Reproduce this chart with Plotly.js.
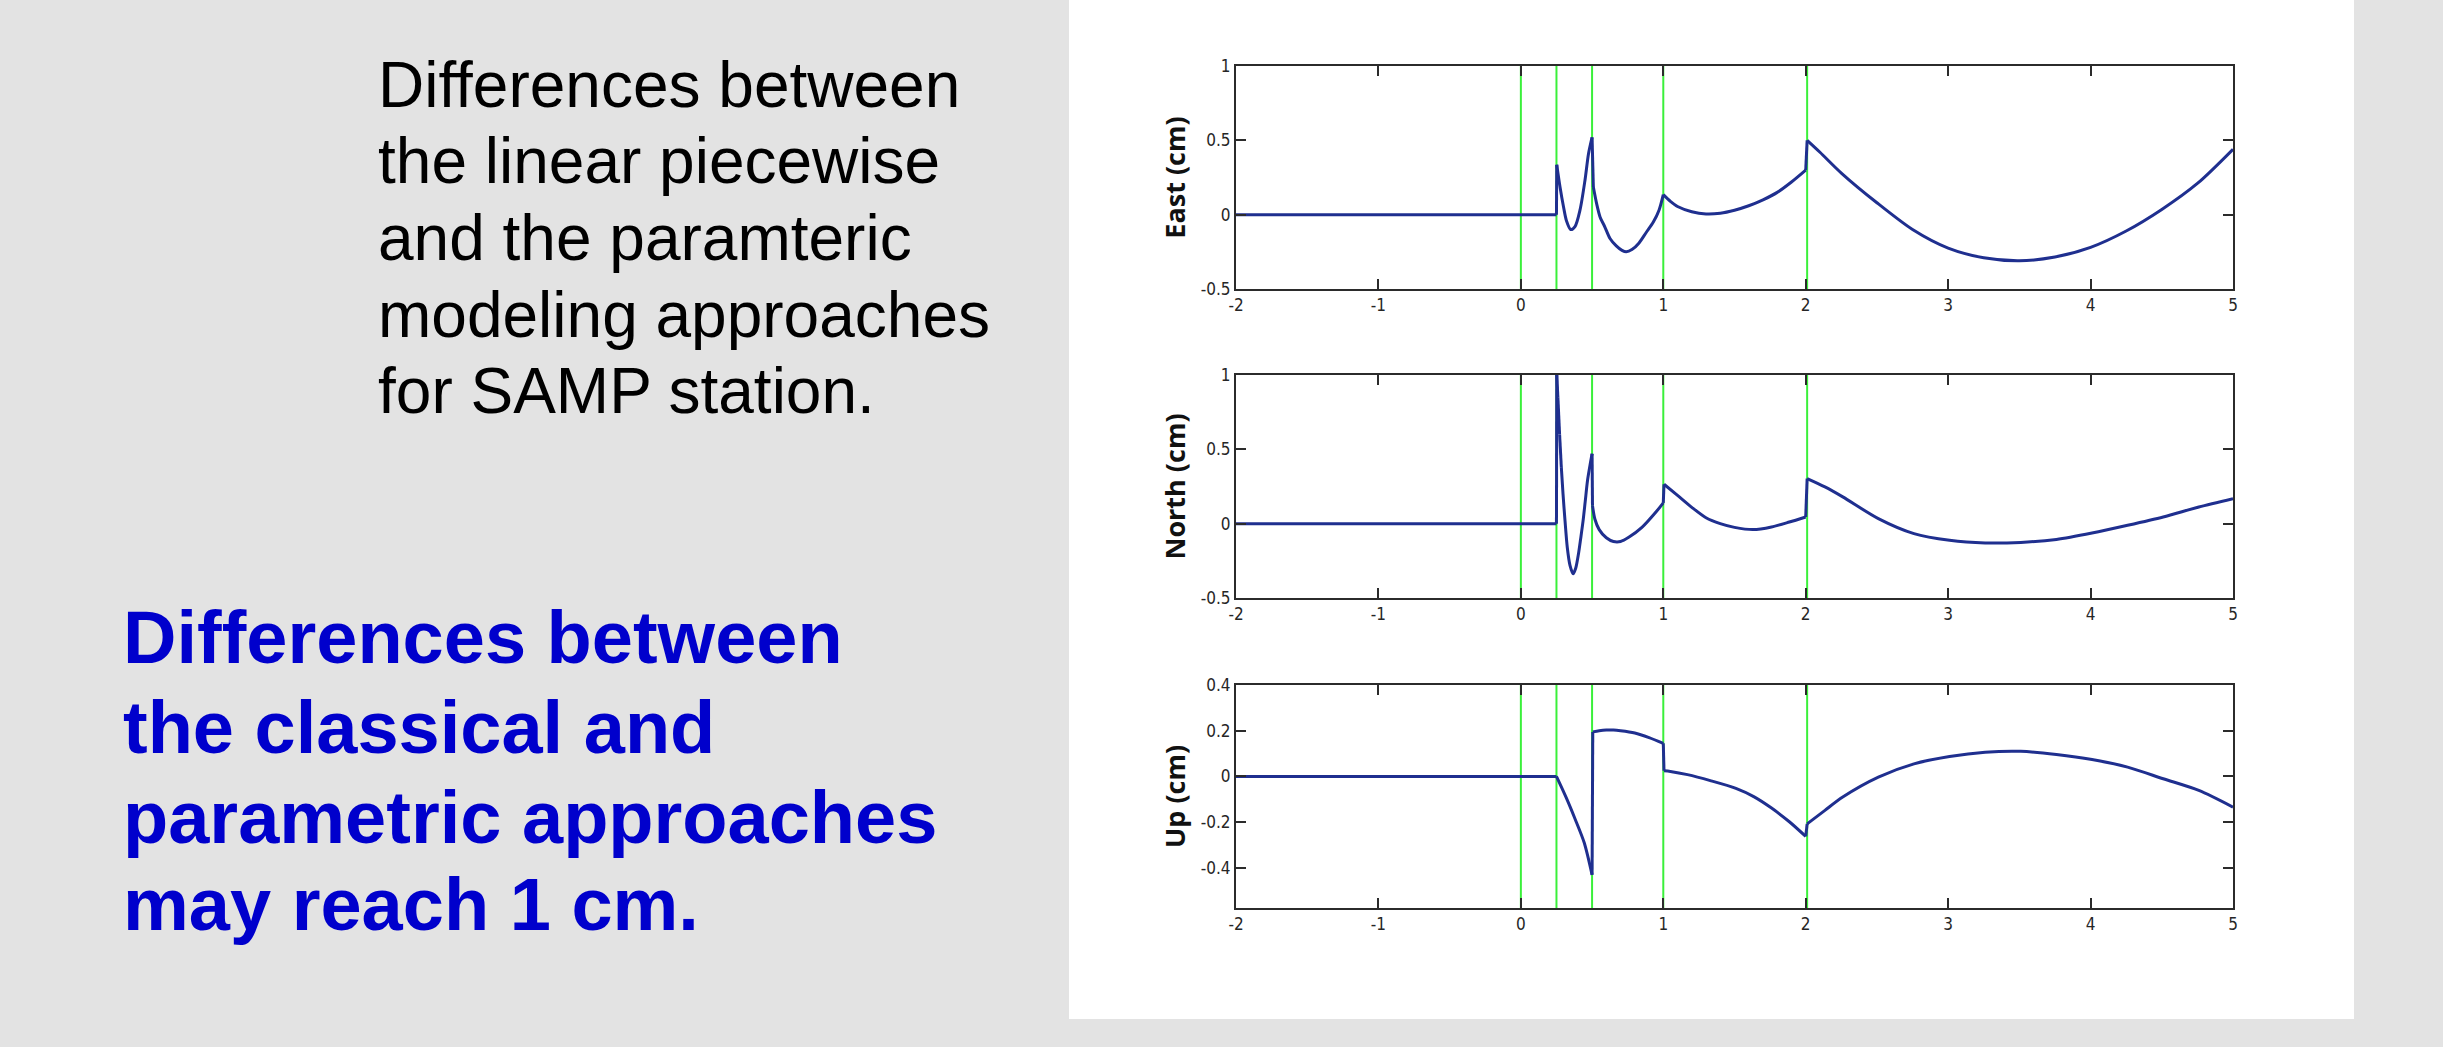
<!DOCTYPE html>
<html>
<head>
<meta charset="utf-8">
<script src="https://cdn.plot.ly/plotly-3.0.1.min.js"></script>
<style>
  html, body { margin: 0; padding: 0; background: #e3e3e3; }
  #chart { width: 2443px; height: 1047px; }
</style>
</head>
<body>
<div id="chart"></div>
<script>
// ---- data (years relative to event; differences in cm) ----
const eventEpochs = [0, 0.25, 0.5, 1.0, 2.01];

const eastT = [-2, 0.25, 0.252, 0.275, 0.30, 0.32, 0.35, 0.38, 0.415, 0.45, 0.475, 0.50, 0.509, 0.532, 0.556, 0.59, 0.626, 0.67, 0.71, 0.74, 0.78, 0.83, 0.88, 0.93, 0.97, 1.0, 1.05, 1.10, 1.20, 1.30, 1.40, 1.50, 1.60, 1.70, 1.80, 1.90, 2.00, 2.01, 2.10, 2.25, 2.50, 2.75, 3.00, 3.25, 3.50, 3.75, 4.00, 4.25, 4.50, 4.75, 5.00];
const eastV = [0, 0, 0.336, 0.186, 0.05, -0.04, -0.10, -0.08, 0.03, 0.23, 0.41, 0.52, 0.186, 0.074, -0.015, -0.083, -0.16, -0.21, -0.24, -0.25, -0.235, -0.19, -0.12, -0.05, 0.03, 0.135, 0.09, 0.055, 0.02, 0.005, 0.01, 0.03, 0.06, 0.10, 0.15, 0.22, 0.30, 0.50, 0.42, 0.28, 0.08, -0.10, -0.225, -0.29, -0.31, -0.285, -0.22, -0.11, 0.035, 0.21, 0.44];
const eastCusps = [1.0];

const northT = [-2, 0.25, 0.252, 0.26, 0.272, 0.284, 0.296, 0.31, 0.326, 0.345, 0.367, 0.385, 0.405, 0.42, 0.437, 0.452, 0.468, 0.485, 0.5, 0.503, 0.52, 0.55, 0.6, 0.65, 0.7, 0.76, 0.85, 0.95, 1.0, 1.005, 1.1, 1.2, 1.3, 1.4, 1.5, 1.63, 1.76, 1.885, 2.0, 2.01, 2.135, 2.26, 2.51, 2.76, 3.01, 3.26, 3.51, 3.76, 4.01, 4.26, 4.51, 4.76, 5.0];
const northV = [0, 0, 1.0, 0.85, 0.6, 0.38, 0.2, 0.02, -0.16, -0.28, -0.337, -0.3, -0.2, -0.1, 0.02, 0.15, 0.29, 0.39, 0.47, 0.12, 0.03, -0.04, -0.095, -0.12, -0.12, -0.09, -0.025, 0.08, 0.14, 0.265, 0.19, 0.11, 0.04, 0.0, -0.025, -0.04, -0.022, 0.011, 0.045, 0.303, 0.247, 0.18, 0.034, -0.067, -0.112, -0.13, -0.126, -0.106, -0.063, -0.011, 0.045, 0.112, 0.168];
const northCusps = [];

const upT = [-2, 0.25, 0.32, 0.38, 0.445, 0.50, 0.505, 0.55, 0.60, 0.65, 0.70, 0.80, 0.90, 1.0, 1.005, 1.05, 1.17, 1.33, 1.51, 1.635, 1.76, 1.885, 2.0, 2.01, 2.135, 2.26, 2.51, 2.76, 3.01, 3.26, 3.51, 3.76, 4.01, 4.26, 4.51, 4.76, 5.0];
const upV = [0, 0, -0.095, -0.185, -0.29, -0.43, 0.195, 0.2, 0.203, 0.203, 0.2, 0.19, 0.17, 0.145, 0.025, 0.022, 0.008, -0.018, -0.052, -0.088, -0.138, -0.198, -0.262, -0.207, -0.148, -0.09, -0.003, 0.055, 0.087, 0.106, 0.11, 0.096, 0.074, 0.041, -0.01, -0.061, -0.134];
const upCusps = [0.25];

const xTicks = [-2, -1, 0, 1, 2, 3, 4, 5];
const enTicks = [-0.5, 0, 0.5, 1];
const upTicks = [-0.4, -0.2, 0, 0.2, 0.4];
const panelTitles = ['East (cm)', 'North (cm)', 'Up (cm)'];

const blackLines = ['Differences between', 'the linear piecewise', 'and the paramteric', 'modeling approaches', 'for SAMP station.'];
const blueLines = ['Differences between', 'the classical and', 'parametric approaches', 'may reach 1 cm.'];

// ---- layout helpers ----
const W = 2443, H = 1047;
const px = v => v / W;
const py = v => 1 - v / H;

const lineColor = '#1f2f8f';
const axisColor = '#2b2b2b';
const tickFont = { family: 'Liberation Sans Narrow, DejaVu Sans Condensed, Arial Narrow, sans-serif', size: 17, color: '#262626' };

function xAxis(anchor) {
  return {
    anchor: anchor, domain: [px(1236), px(2233)], range: [-2, 5],
    tickvals: xTicks, ticktext: xTicks.map(String),
    showline: true, mirror: 'allticks', linecolor: axisColor, linewidth: 2,
    ticks: 'inside', ticklen: 10, tickwidth: 2, tickcolor: axisColor,
    showgrid: false, zeroline: false, tickfont: tickFont, automargin: false,
    fixedrange: true
  };
}
function yAxis(anchor, dom, range, ticks, title) {
  return {
    anchor: anchor, domain: dom, range: range,
    tickvals: ticks, ticktext: ticks.map(v => String(v)),
    showline: true, mirror: 'allticks', linecolor: axisColor, linewidth: 2,
    ticks: 'inside', ticklen: 10, tickwidth: 2, tickcolor: axisColor,
    showgrid: false, zeroline: false, tickfont: tickFont, automargin: false,
    title: { text: title, standoff: 7, font: { family: 'Open Sans, DejaVu Sans, sans-serif', size: 27, color: '#111111', weight: 'bold' } },
    fixedrange: true
  };
}

// Split a series into smooth pieces at jumps (very close samples) and cusps.
function pieces(t, v, cusps, xa, ya) {
  const out = [];
  const smooth = { type: 'scatter', mode: 'lines', xaxis: xa, yaxis: ya, hoverinfo: 'skip', showlegend: false,
                   line: { color: lineColor, width: 3, shape: 'spline', smoothing: 0.8 } };
  const straight = { type: 'scatter', mode: 'lines', xaxis: xa, yaxis: ya, hoverinfo: 'skip', showlegend: false,
                     line: { color: lineColor, width: 3 } };
  let cx = [t[0]], cy = [v[0]];
  for (let i = 1; i < t.length; i++) {
    const gap = t[i] - t[i - 1];
    if (gap < 0.012) {
      out.push(Object.assign({ x: cx, y: cy }, smooth));
      out.push(Object.assign({ x: [t[i - 1], t[i]], y: [v[i - 1], v[i]] }, straight));
      cx = [t[i]]; cy = [v[i]];
    } else {
      cx.push(t[i]); cy.push(v[i]);
      if (cusps.includes(t[i])) {
        out.push(Object.assign({ x: cx, y: cy }, smooth));
        cx = [t[i]]; cy = [v[i]];
      }
    }
  }
  out.push(Object.assign({ x: cx, y: cy }, smooth));
  return out;
}

const traces = []
  .concat(pieces(eastT, eastV, eastCusps, 'x', 'y'))
  .concat(pieces(northT, northV, northCusps, 'x2', 'y2'))
  .concat(pieces(upT, upV, upCusps, 'x3', 'y3'));

const shapes = [{
  type: 'rect', xref: 'paper', yref: 'paper',
  x0: px(1069), x1: px(2354), y0: py(1019), y1: py(0),
  fillcolor: '#ffffff', line: { width: 0 }, layer: 'below'
}];
[['x', 'y'], ['x2', 'y2'], ['x3', 'y3']].forEach(([xa, ya]) => {
  eventEpochs.forEach(e => shapes.push({
    type: 'line', xref: xa, yref: ya + ' domain', x0: e, x1: e, y0: 0, y1: 1,
    line: { color: '#3af03a', width: 2 }, layer: 'below'
  }));
});

const annotations = [];
const blackCenters = [85, 161, 238, 315, 391];
blackLines.forEach((t, i) => annotations.push({
  text: t, xref: 'paper', yref: 'paper', x: px(376), y: py(blackCenters[i]),
  xanchor: 'left', yanchor: 'middle', showarrow: false, align: 'left',
  font: { family: 'Liberation Sans, Arial, sans-serif', size: 64, color: '#000000' }
}));
const blueCenters = [637, 727, 817, 904];
blueLines.forEach((t, i) => annotations.push({
  text: '<b>' + t + '</b>', xref: 'paper', yref: 'paper', x: px(121), y: py(blueCenters[i]),
  xanchor: 'left', yanchor: 'middle', showarrow: false, align: 'left',
  font: { family: 'Liberation Sans, Arial, sans-serif', size: 74, color: '#0000cc' }
}));

const layout = {
  width: W, height: H,
  margin: { l: 0, r: 0, t: 0, b: 0 },
  paper_bgcolor: '#e3e3e3', plot_bgcolor: '#ffffff',
  showlegend: false,
  xaxis: xAxis('y'), xaxis2: xAxis('y2'), xaxis3: xAxis('y3'),
  yaxis: yAxis('x', [py(289), py(66)], [-0.5, 1], enTicks, panelTitles[0]),
  yaxis2: yAxis('x2', [py(598), py(375)], [-0.5, 1], enTicks, panelTitles[1]),
  yaxis3: yAxis('x3', [py(908), py(685)], [-0.575, 0.4], upTicks, panelTitles[2]),
  shapes: shapes,
  annotations: annotations
};

Plotly.newPlot('chart', traces, layout, { displayModeBar: false, staticPlot: true });
</script>
</body>
</html>
